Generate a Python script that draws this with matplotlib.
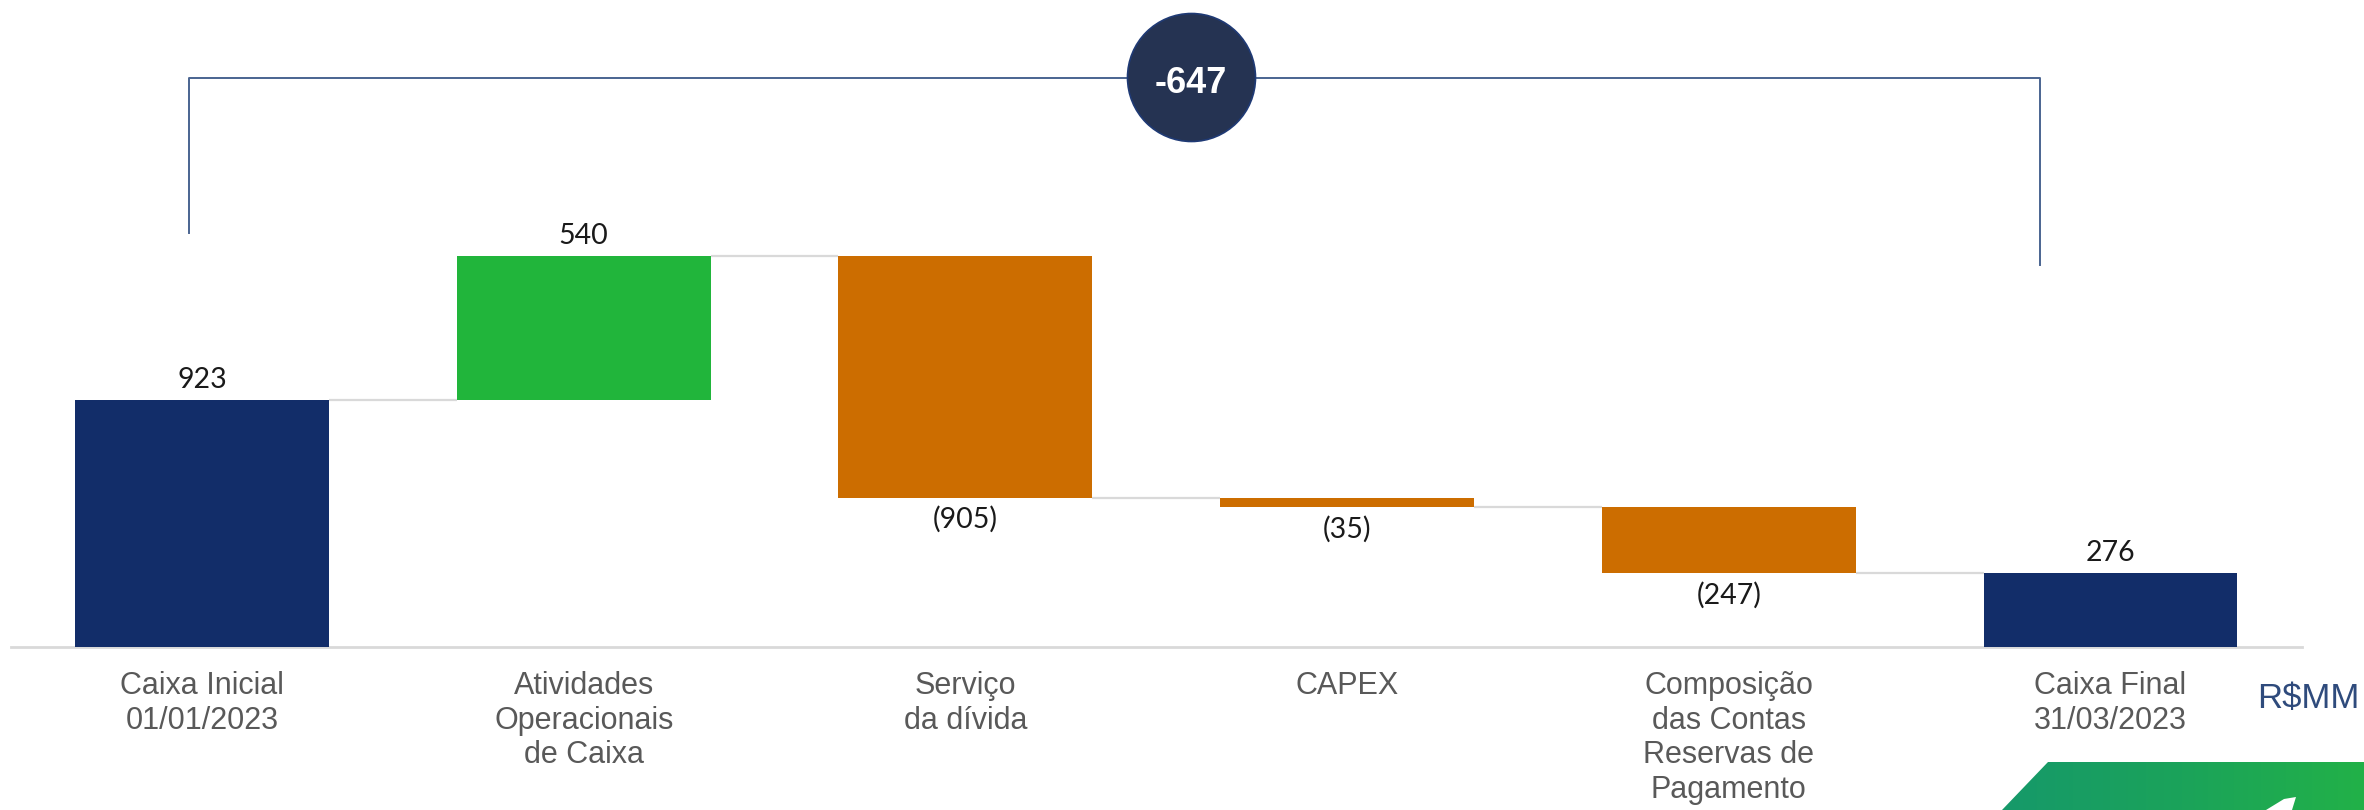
import numpy as np
import matplotlib.pyplot as plt
from matplotlib.patches import Polygon
from matplotlib.colors import LinearSegmentedColormap

# waterfall data (R$MM)
categories = ['Caixa Inicial\n01/01/2023', 'Atividades\nOperacionais\nde Caixa',
              'Serviço\nda dívida', 'CAPEX',
              'Composição\ndas Contas\nReservas de\nPagamento',
              'Caixa Final\n31/03/2023']
values = [923, 540, -905, -35, -247, 276]
kinds = ['total', 'delta', 'delta', 'delta', 'delta', 'total']
labels = ['923', '540', '(905)', '(35)', '(247)', '276']
variation = -647

NAVY = '#122d69'
GREEN = '#21b53b'
ORANGE = '#cc6d00'
GRID = '#d9d9d9'

W, H = 2364, 810
fig = plt.figure(figsize=(W / 100, H / 100), dpi=100)
ax = fig.add_axes([0, 0, 1, 1])

# pixel layout -> data scale
x0_px, step_px = 202, 381.7
base_px, unit_px = 647, 0.2676
ax.set_xlim(-x0_px / step_px, (W - x0_px) / step_px)
ax.set_ylim(-(H - base_px) / unit_px, base_px / unit_px)
ax.axis('off')

def px2data(px, py):
    return (px - x0_px) / step_px, (base_px - py) / unit_px

x = np.arange(len(values))
bw = 0.665
bottoms, heights, colors = [], [], []
running = 0
for v, k in zip(values, kinds):
    if k == 'total':
        bottoms.append(0)
        heights.append(v)
        colors.append(NAVY)
        running = v
    else:
        if v >= 0:
            bottoms.append(running)
            colors.append(GREEN)
        else:
            bottoms.append(running + v)
            colors.append(ORANGE)
        heights.append(abs(v))
        running += v

ax.bar(x, heights, bottom=bottoms, width=bw, color=colors, zorder=3)

# connectors
levels = np.cumsum([values[0]] + values[1:5])
for i in range(len(values) - 1):
    ax.plot([x[i] + bw / 2, x[i + 1] - bw / 2], [levels[i], levels[i]],
            color=GRID, lw=1.6, zorder=2, solid_capstyle='butt')

# baseline
xa, _ = px2data(11, 0)
xb, _ = px2data(2302, 0)
ax.plot([xa, xb], [0, 0], color=GRID, lw=2, zorder=1)

# value labels
for i, (v, k) in enumerate(zip(values, kinds)):
    top = bottoms[i] + heights[i]
    if v >= 0:
        ax.annotate(labels[i], (x[i], top), xytext=(0, 5), textcoords='offset points',
                    ha='center', va='bottom', fontsize=20.5, family='Lato', color='#1a1a1a')
    else:
        ax.annotate(labels[i], (x[i], bottoms[i]), xytext=(0, -6), textcoords='offset points',
                    ha='center', va='top', fontsize=20.5, family='Lato', color='#1a1a1a')

# category labels
_, ylab = px2data(0, 671)
for i, c in enumerate(categories):
    ax.text(x[i], ylab, c, ha='center', va='top', fontsize=22, family='Liberation Sans',
            color='#595959', linespacing=1.2)

# unit
ux, uy = px2data(2308, 699)
ax.text(ux, uy, 'R$MM', ha='center', va='center', fontsize=25, family='Liberation Sans',
        color='#2f4b7c')

# bracket with variation circle
lx, ly = px2data(189, 233)
rx, ry = px2data(2040, 265)
_, ty = px2data(0, 78)
ax.plot([lx, lx, rx, rx], [ly, ty, ty, ry], color='#4a6491', lw=1.4, zorder=4)
cx, cy = px2data(1191, 77)
ax.scatter([cx], [cy], s=(128 * 0.72) ** 2, color='#253352', edgecolor='#1f3a75',
           linewidth=1.2, zorder=5)
_, tb = px2data(0, 93)
ax.text(cx, tb, f'{variation}', ha='center', va='baseline', fontsize=26, fontweight='bold',
        family='Liberation Sans', color='white', zorder=6)

# green logo strip bottom-right
verts = [px2data(*p) for p in [(2048, 762), (2364, 762), (2364, 810), (2002, 810)]]
poly = Polygon(verts, closed=True, facecolor='none', edgecolor='none')
ax.add_patch(poly)
grad = np.linspace(0, 1, 256).reshape(1, -1)
cmap = LinearSegmentedColormap.from_list('g', ['#16996a', '#1ba35a', '#22b148'])
gx0, gy0 = px2data(2000, 810)
gx1, gy1 = px2data(2364, 762)
im = ax.imshow(grad, cmap=cmap, extent=[gx0, gx1, gy0, gy1], aspect='auto', zorder=2)
im.set_clip_path(poly)
wv = [px2data(*p) for p in [(2266, 810), (2284, 799), (2296, 797), (2292, 810)]]
ax.add_patch(Polygon(wv, closed=True, facecolor='white', edgecolor='none', zorder=3))

fig.savefig('out.png', dpi=100)
